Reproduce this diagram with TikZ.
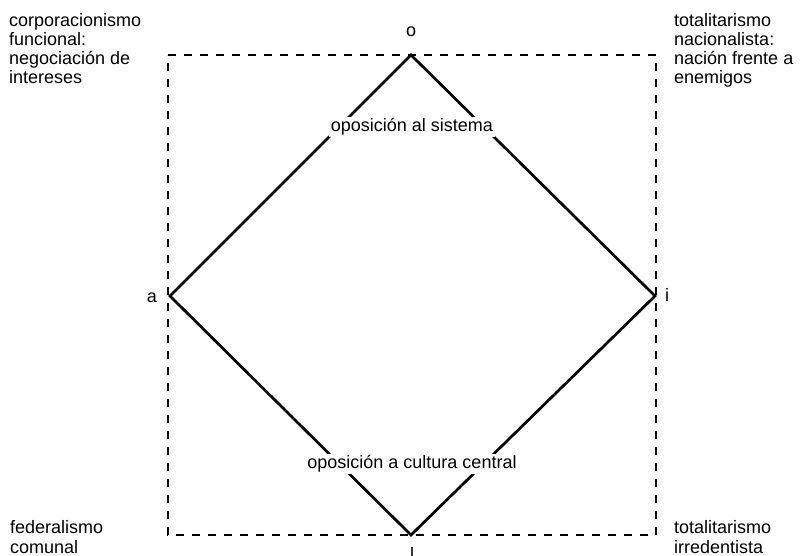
\documentclass[tikz,border=0pt]{standalone}
\usepackage{fontspec}
\setmainfont{Liberation Sans}
\begin{document}
\begin{tikzpicture}[x=1pt,y=-1pt,
  txt/.style={inner sep=0pt,font=\fontsize{18}{19.3}\selectfont,align=left},
  lbl/.style={inner sep=0pt,font=\fontsize{18}{19.3}\selectfont},
  frame/.style={line width=2.7pt,dash pattern=on 8pt off 8pt},
  edge/.style={line width=2.7pt}]
\useasboundingbox (0,0) rectangle (800,556);
\clip (0,0) rectangle (800,556);
% corners of diamond
\coordinate (o) at (411,55);
\coordinate (a) at (170,296);
\coordinate (i) at (655,296);
\coordinate (l) at (411,535);
% frame
\coordinate (tl) at (168,55);
\coordinate (tr) at (656,55);
\coordinate (br) at (656,535);
\coordinate (bl) at (168,535);
\draw[frame] (tl) -- (tr) -- (br) -- (bl) -- cycle;
% diamond
\draw[edge,line join=miter] (o) -- (i) -- (l) -- (a) -- cycle;
% vertex labels
\node[lbl,anchor=base] (lo) at (411,37) {o};
\node[lbl,anchor=base east] (la) at (157,302) {a};
\node[lbl,anchor=base west] (li) at (665,301) {i};
\node[lbl,anchor=base] (ll) at (412,560) {l};
% axis labels
\node[lbl,fill=white,inner sep=2pt] (sis) at (412,127) {oposición al sistema};
\node[lbl,fill=white,inner sep=2pt] (cul) at (412,464) {oposición a cultura central};
% corner texts (base = baseline of last line)
\node[txt,anchor=base west] (ctl) at (9,84) {corporacionismo\\funcional:\\negociación de\\intereses};
\node[txt,anchor=base west] (ctr) at (674,84) {totalitarismo\\nacionalista:\\nación frente a\\enemigos};
\node[txt,anchor=base west] (cbl) at (10,553) {federalismo\\comunal};
\node[txt,anchor=base west] (cbr) at (674,553) {totalitarismo\\irredentista};
\end{tikzpicture}
\end{document}
